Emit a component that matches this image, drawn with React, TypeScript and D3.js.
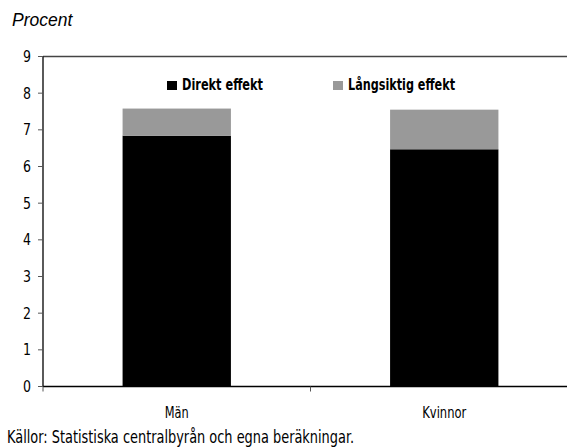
import React from "react";
import * as d3 from "d3";

const categories = ["Män", "Kvinnor"];
const direktEffekt = [6.84, 6.47];
const langsiktigEffekt = [0.74, 1.08];
const seriesNames = ["Direkt effekt", "Långsiktig effekt"];
const yTicks = [0, 1, 2, 3, 4, 5, 6, 7, 8, 9];
const sourceNote = "Källor: Statistiska centralbyrån och egna beräkningar.";

const W = 567;
const H = 447;
const left = 43;
const right = 578;
const top = 56.5;
const bottom = 386.5;
const narrow = "'Liberation Sans Narrow', 'DejaVu Sans Condensed', sans-serif";

export default function App() {
  const x = d3.scaleBand<string>().domain(categories).range([left, right]).paddingInner(0.595).paddingOuter(0.2975);
  const y = d3.scaleLinear().domain([0, 9]).range([bottom, top]);
  const colors = ["#000000", "#999999"];
  const stackData = categories.map((c, i) => ({ cat: c, d: direktEffekt[i], l: langsiktigEffekt[i] }));
  const stack = d3.stack<any>().keys(["d", "l"])(stackData);
  const step = x.step();
  const boundaries = categories.slice(0, -1).map((c) => (x(c) as number) + x.bandwidth() + (step - x.bandwidth()) / 2);
  const catWidths = [24, 44];
  const legendWidths = [81, 107];

  return (
    <svg width={W} height={H} style={{ position: "absolute", left: 0, top: 0, background: "#fff" }}>
      <text x={12} y={26} fontFamily="'Liberation Sans', Arial, sans-serif" fontStyle="italic" fontSize={17.5}>Procent</text>
      {stack.map((s, si) => (
        <g key={si} fill={colors[si]}>
          {s.map((d, i) => (
            <rect key={i} x={x(categories[i])} width={x.bandwidth()} y={y(d[1])} height={y(d[0]) - y(d[1])} />
          ))}
        </g>
      ))}
      <line x1={left} x2={W} y1={top} y2={top} stroke="#444" strokeWidth={1.3} />
      <line x1={left} x2={W} y1={bottom} y2={bottom} stroke="#000" strokeWidth={1.3} />
      <line x1={left} x2={left} y1={top} y2={bottom} stroke="#000" strokeWidth={1.3} />
      {yTicks.map((t) => (
        <g key={t}>
          <line x1={left - 5} x2={left} y1={y(t)} y2={y(t)} stroke="#555" strokeWidth={1} />
          <text x={31} y={y(t) + 5.5} textAnchor="end" textLength={8} lengthAdjust="spacingAndGlyphs" fontFamily={narrow} fontSize={15.5}>{t}</text>
        </g>
      ))}
      {boundaries.map((b, i) => (
        <line key={i} x1={b} x2={b} y1={bottom} y2={bottom + 5} stroke="#555" strokeWidth={1} />
      ))}
      <line x1={left} x2={left} y1={bottom} y2={bottom + 5} stroke="#555" strokeWidth={1} />
      {categories.map((c, i) => (
        <text key={c} x={(x(c) as number) + x.bandwidth() / 2 - catWidths[i] / 2} y={418} textLength={catWidths[i]} lengthAdjust="spacingAndGlyphs" fontFamily={narrow} fontSize={16}>{c}</text>
      ))}
      {seriesNames.map((n, i) => {
        const lx = [167, 333][i];
        return (
          <g key={n}>
            <rect x={lx} y={81} width={10} height={9} fill={colors[i]} />
            <text x={lx + 15} y={90} textLength={legendWidths[i]} lengthAdjust="spacingAndGlyphs" fontFamily={narrow} fontWeight="bold" fontSize={15.5}>{n}</text>
          </g>
        );
      })}
      <text x={7} y={442.5} textLength={347} lengthAdjust="spacingAndGlyphs" fontFamily={narrow} fontSize={17}>{sourceNote}</text>
    </svg>
  );
}
